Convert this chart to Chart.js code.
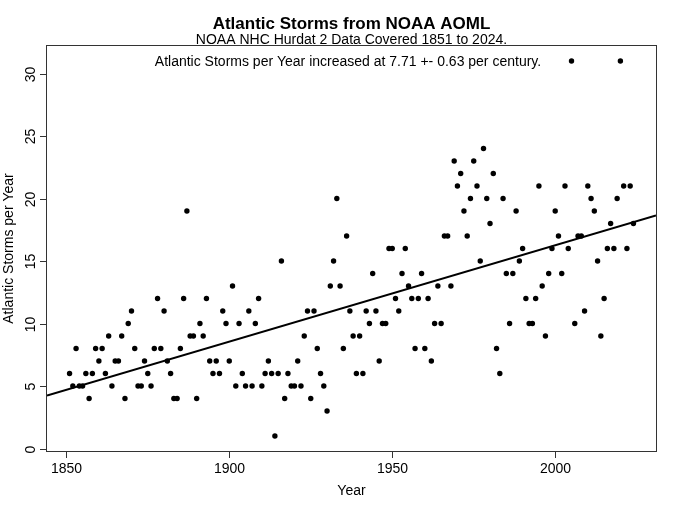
<!DOCTYPE html>
<html>
<head>
<meta charset="utf-8">
<script src="https://cdn.jsdelivr.net/npm/chart.js@4/dist/chart.umd.min.js"></script>
<style>
  html, body { margin: 0; padding: 0; background: #ffffff; }
  #wrap { width: 680px; height: 509px; }
</style>
</head>
<body>
<div id="wrap"><canvas id="c" width="680" height="509"></canvas></div>
<script>
// ---- Data ----
const years = [
  1851,1852,1853,1854,1855,1856,1857,1858,1859,1860,
  1861,1862,1863,1864,1865,1866,1867,1868,1869,1870,
  1871,1872,1873,1874,1875,1876,1877,1878,1879,1880,
  1881,1882,1883,1884,1885,1886,1887,1888,1889,1890,
  1891,1892,1893,1894,1895,1896,1897,1898,1899,1900,
  1901,1902,1903,1904,1905,1906,1907,1908,1909,1910,
  1911,1912,1913,1914,1915,1916,1917,1918,1919,1920,
  1921,1922,1923,1924,1925,1926,1927,1928,1929,1930,
  1931,1932,1933,1934,1935,1936,1937,1938,1939,1940,
  1941,1942,1943,1944,1945,1946,1947,1948,1949,1950,
  1951,1952,1953,1954,1955,1956,1957,1958,1959,1960,
  1961,1962,1963,1964,1965,1966,1967,1968,1969,1970,
  1971,1972,1973,1974,1975,1976,1977,1978,1979,1980,
  1981,1982,1983,1984,1985,1986,1987,1988,1989,1990,
  1991,1992,1993,1994,1995,1996,1997,1998,1999,2000,
  2001,2002,2003,2004,2005,2006,2007,2008,2009,2010,
  2011,2012,2013,2014,2015,2016,2017,2018,2019,2020,
  2021,2022,2023,2024
];
const storms = [
  6,5,8,5,5,6,4,6,8,7,
  8,6,9,5,7,7,9,4,10,11,
  8,5,5,7,6,5,8,12,8,11,
  7,6,4,4,8,12,19,9,9,4,
  10,9,12,7,6,7,6,11,10,7,
  13,5,10,6,5,11,5,10,12,5,
  6,7,6,1,6,15,4,6,5,5,
  7,5,9,11,4,11,8,6,5,3,
  13,15,20,13,8,17,11,9,6,9,
  6,11,10,14,11,7,10,10,16,16,
  12,11,14,16,13,12,8,12,14,8,
  12,7,10,13,10,17,17,13,23,21,
  22,19,17,20,23,21,15,24,20,18,
  22,8,6,20,14,10,14,19,15,16,
  12,10,10,12,21,13,9,14,16,19,
  17,14,21,16,31,10,17,17,11,21,
  20,19,15,9,12,16,18,16,20,31,
  21,16,21,18
];
const xTicks = [1850, 1900, 1950, 2000];
const yTicks = [0, 5, 10, 15, 20, 25, 30];

const titleText = "Atlantic Storms from NOAA AOML";
const subtitleText = "NOAA NHC Hurdat 2 Data Covered 1851 to 2024.";
const noteText = "Atlantic Storms per Year increased at 7.71 +- 0.63 per century.";
const xTitle = "Year";
const yTitle = "Atlantic Storms per Year";

// ---- Derived: axis limits (R style 4% extension) and least-squares fit ----
const xMinD = Math.min(...years), xMaxD = Math.max(...years);
const yMinD = Math.min(...storms), yMaxD = Math.max(...storms);
const xPad = (xMaxD - xMinD) * 0.04, yPad = (yMaxD - yMinD) * 0.04;
const xLo = xMinD - xPad, xHi = xMaxD + xPad;
const yLo = yMinD - yPad, yHi = yMaxD + yPad;

const n = years.length;
const mx = years.reduce((a, b) => a + b, 0) / n;
const my = storms.reduce((a, b) => a + b, 0) / n;
let sxy = 0, sxx = 0;
for (let i = 0; i < n; i++) { sxy += (years[i] - mx) * (storms[i] - my); sxx += (years[i] - mx) ** 2; }
const slope = sxy / sxx;
const intercept = my - slope * mx;

const points = years.map((y, i) => ({ x: y, y: storms[i] }));
const fitLine = [xLo, xHi].map(x => ({ x: x, y: intercept + slope * x }));

const FONT = '"Liberation Sans", Arial, Helvetica, sans-serif';

const axesPlugin = {
  id: 'rAxes',
  afterDraw(chart) {
    const ctx = chart.ctx;
    const ca = chart.chartArea;
    const xs = chart.scales.x, ys = chart.scales.y;
    ctx.save();
    // box
    ctx.strokeStyle = '#333';
    ctx.lineWidth = 1;
    ctx.strokeRect(ca.left - 0.5, ca.top - 0.5, ca.right - ca.left + 1, ca.bottom - ca.top + 1);

    ctx.fillStyle = '#000';
    // x ticks
    ctx.font = '14px ' + FONT;
    ctx.textAlign = 'center';
    ctx.textBaseline = 'alphabetic';
    xTicks.forEach(t => {
      const px = Math.round(xs.getPixelForValue(t)) + 0.5;
      ctx.beginPath();
      ctx.moveTo(px, ca.bottom + 0.5);
      ctx.lineTo(px, ca.bottom + 7);
      ctx.stroke();
      ctx.fillText(String(t), px, 472.5);
    });
    // y ticks (rotated labels)
    yTicks.forEach(t => {
      const py = Math.round(ys.getPixelForValue(t)) + 0.5;
      ctx.beginPath();
      ctx.moveTo(ca.left - 0.5, py);
      ctx.lineTo(ca.left - 7, py);
      ctx.stroke();
      ctx.save();
      ctx.translate(35, py);
      ctx.rotate(-Math.PI / 2);
      ctx.textAlign = 'center';
      ctx.fillText(String(t), 0, 0);
      ctx.restore();
    });
    const cx = (ca.left + ca.right) / 2;
    const cy = (ca.top + ca.bottom) / 2;
    // axis titles
    ctx.font = '14px ' + FONT;
    ctx.textAlign = 'center';
    ctx.fillText(xTitle, cx, 495);
    ctx.save();
    ctx.translate(13, cy);
    ctx.rotate(-Math.PI / 2);
    ctx.fillText(yTitle, 0, 0);
    ctx.restore();
    // titles
    ctx.font = 'bold 17px ' + FONT;
    ctx.fillText(titleText, cx, 29);
    ctx.font = '14px ' + FONT;
    ctx.fillText(subtitleText, cx, 43.7);
    ctx.fillText(noteText, 348, 66.3);
    ctx.restore();
  }
};

new Chart(document.getElementById('c'), {
  data: {
    datasets: [
      {
        type: 'line',
        data: fitLine,
        borderColor: '#000',
        borderWidth: 2,
        pointRadius: 0,
        fill: false,
        order: 0
      },
      {
        type: 'scatter',
        data: points,
        backgroundColor: '#000',
        borderColor: '#000',
        borderWidth: 0,
        pointRadius: 2.7,
        order: 1
      }
    ]
  },
  options: {
    responsive: false,
    animation: false,
    events: [],
    layout: { padding: { left: 47, top: 46, right: 24, bottom: 58 } },
    plugins: { legend: { display: false }, tooltip: { enabled: false }, title: { display: false } },
    scales: {
      x: { type: 'linear', min: xLo, max: xHi, display: false },
      y: { type: 'linear', min: yLo, max: yHi, display: false }
    }
  },
  plugins: [axesPlugin]
});
</script>
</body>
</html>
